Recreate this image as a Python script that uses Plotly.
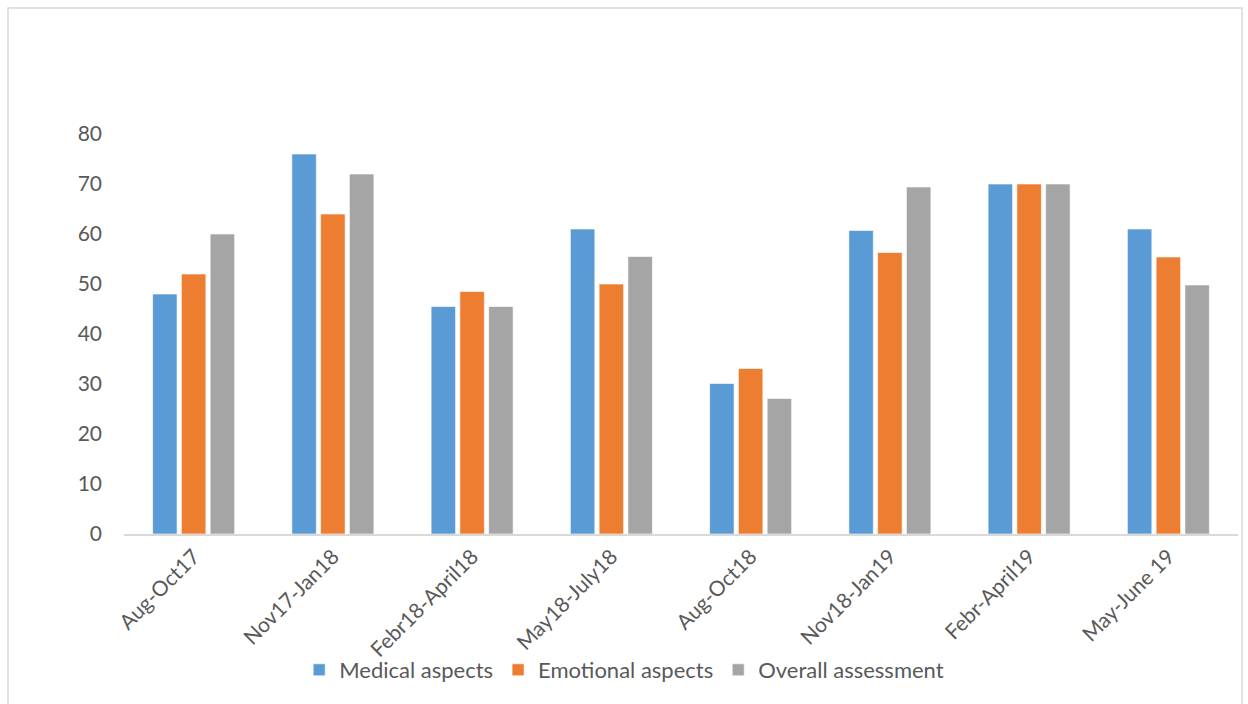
import plotly.graph_objects as go

categories = ["Aug-Oct17", "Nov17-Jan18", "Febr18-April18", "May18-July18",
              "Aug-Oct18", "Nov18-Jan19", "Febr-April19", "May-June 19"]
medical = [48, 76, 45.5, 61, 30.1, 60.7, 70, 61]
emotional = [52, 64, 48.5, 50, 33.1, 56.3, 70, 55.4]
overall = [60, 72, 45.5, 55.5, 27.1, 69.4, 70, 49.8]

series_names = ["Medical aspects", "Emotional aspects", "Overall assessment"]
colors = ["#5B9BD5", "#ED7D31", "#A5A5A5"]
y_ticks = [0, 10, 20, 30, 40, 50, 60, 70, 80]

FONT = "Lato, 'Open Sans', sans-serif"

fig = go.Figure()
for name, vals, col in zip(series_names, [medical, emotional, overall], colors):
    fig.add_trace(go.Bar(
        x=categories, y=vals, name=name,
        marker=dict(color=col, line=dict(color="rgba(255,255,255,0.6)", width=1)),
    ))

fig.update_layout(
    width=1248, height=704,
    margin=dict(l=124, r=10, t=134, b=170),
    paper_bgcolor="white", plot_bgcolor="white",
    barmode="group", bargap=0.38, bargroupgap=0.15,
    font=dict(family=FONT, size=21, color="#595959"),
    showlegend=True,
    legend=dict(orientation="h", x=0.449, xanchor="center", y=-0.34, yanchor="middle",
                font=dict(size=22, color="#595959"), itemwidth=30,
                bgcolor="rgba(0,0,0,0)", traceorder="normal"),
    xaxis=dict(showgrid=False, showline=True, linecolor="#D9D9D9", linewidth=2,
               tickangle=-45, ticks="", tickfont=dict(size=21, color="#595959")),
    yaxis=dict(range=[0, 80], tickvals=y_ticks, showgrid=False, zeroline=False,
               showline=False, ticks="", ticklabelstandoff=21,
               tickfont=dict(size=21, color="#595959")),
    shapes=[dict(type="rect", xref="paper", yref="paper",
                 x0=(8 - 124) / 1114, x1=(1242 - 124) / 1114,
                 y0=-0.5, y1=(534 - 8) / 400,
                 line=dict(color="#D9D9D9", width=1.5), fillcolor="rgba(0,0,0,0)",
                 layer="below")],
)

fig.write_html("out.html")
